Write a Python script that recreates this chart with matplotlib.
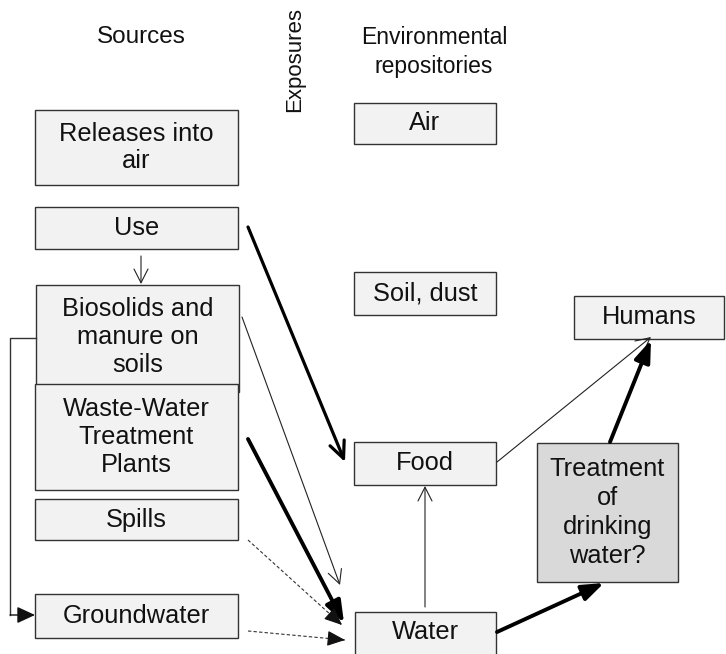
import matplotlib
matplotlib.use("Agg")
import matplotlib.pyplot as plt
from matplotlib.patches import Rectangle, FancyArrowPatch

plt.rcParams['font.family'] = ['Liberation Sans', 'DejaVu Sans']

# ---- content ----
headers = ["Sources", "Exposures", "Environmental\nrepositories"]
node_labels = ["Releases into\nair", "Use", "Biosolids and\nmanure on\nsoils",
               "Waste-Water\nTreatment\nPlants", "Spills", "Groundwater",
               "Air", "Soil, dust", "Food", "Water",
               "Treatment\nof\ndrinking\nwater?", "Humans"]
# flows: (from, to, kind)
flows = [("Use", "Biosolids and\nmanure on\nsoils", "thin"),
         ("Use", "Food", "thick_open"),
         ("Biosolids and\nmanure on\nsoils", "Water", "thin"),
         ("Waste-Water\nTreatment\nPlants", "Water", "thick"),
         ("Spills", "Water", "dashed"),
         ("Groundwater", "Water", "dashed"),
         ("Water", "Food", "thin"),
         ("Food", "Humans", "thin"),
         ("Water", "Treatment\nof\ndrinking\nwater?", "thick"),
         ("Treatment\nof\ndrinking\nwater?", "Humans", "thick")]

# ---- layout (pixel coordinates) ----
box_geom = {
    "Releases into\nair": (35, 110, 238, 185),
    "Use": (35, 207, 238, 249),
    "Biosolids and\nmanure on\nsoils": (36, 285, 239, 392),
    "Waste-Water\nTreatment\nPlants": (35, 384, 238, 490),
    "Spills": (35, 499, 238, 540),
    "Groundwater": (35, 594, 238, 638),
    "Air": (354, 103, 496, 144),
    "Soil, dust": (354, 272, 496, 315),
    "Food": (354, 442, 496, 485),
    "Water": (355, 612, 496, 690),
    "Treatment\nof\ndrinking\nwater?": (537, 443, 678, 582),
    "Humans": (574, 296, 724, 339),
}
text_y_override = {"Water": 632, "Biosolids and\nmanure on\nsoils": 337}
flow_geom = [((141, 256), (141, 284)),
             ((248, 227), (345, 462)),
             ((242, 317), (340, 585)),
             ((248, 439), (344, 623)),
             ((248, 540), (342, 625)),
             ((248, 631), (345, 640)),
             ((425, 607), (425, 486)),
             ((497, 462), (651, 337)),
             ((497, 632), (604, 583)),
             ((610, 442), (651, 340))]

W, H = 726, 654
fig = plt.figure(figsize=(W / 100, H / 100), dpi=100)
ax = fig.add_axes([0, 0, 1, 1])
ax.set_xlim(0, W)
ax.set_ylim(H, 0)
ax.axis("off")

# headers
ax.text(141, 43, headers[0], ha="center", va="baseline", fontsize=17.5, color="#111111")
ax.text(295, 60, headers[1], ha="center", va="center", rotation=90, fontsize=16, color="#111111")
ax.text(434, 52, headers[2], ha="center", va="center", fontsize=16.5, linespacing=1.3,
        color="#111111", multialignment="center")

# boxes
for lab in node_labels:
    x0, y0, x1, y1 = box_geom[lab]
    fc = "#d9d9d9" if lab.startswith("Treatment") else "#f2f2f2"
    ax.add_patch(Rectangle((x0, y0), x1 - x0, y1 - y0, facecolor=fc,
                           edgecolor="#333333", linewidth=1.0, zorder=2))
    ty = text_y_override.get(lab, (y0 + y1) / 2)
    ls = 1.25 if lab.startswith("Treatment") else 1.2
    ax.text((x0 + x1) / 2, ty, lab, ha="center", va="center", fontsize=18.3,
            linespacing=ls, color="#111111", zorder=3, multialignment="center")

# flows
for (src, dst, kind), (p0, p1) in zip(flows, flow_geom):
    if kind == "thin":
        a = FancyArrowPatch(p0, p1, arrowstyle="->,head_length=0.55,head_width=0.28",
                            mutation_scale=18, lw=0.8, color="#222222",
                            shrinkA=0, shrinkB=0, zorder=4)
        ax.add_patch(a)
    elif kind == "thick_open":
        a = FancyArrowPatch(p0, p1, arrowstyle="->,head_length=0.55,head_width=0.25",
                            mutation_scale=22, lw=2.3, color="black",
                            shrinkA=0, shrinkB=0, zorder=4)
        ax.add_patch(a)
    elif kind == "thick":
        a = FancyArrowPatch(p0, p1, arrowstyle="-|>,head_length=0.6,head_width=0.22",
                            mutation_scale=22, lw=2.8, color="black",
                            shrinkA=0, shrinkB=0, zorder=4)
        ax.add_patch(a)
    elif kind == "dashed":
        ax.plot([p0[0], p1[0]], [p0[1], p1[1]], color="#333333", lw=0.8,
                dashes=(3, 2), zorder=4)
        dx, dy = p1[0] - p0[0], p1[1] - p0[1]
        L = (dx ** 2 + dy ** 2) ** 0.5
        q = (p1[0] - dx / L * 12, p1[1] - dy / L * 12)
        a = FancyArrowPatch(q, p1, arrowstyle="-|>,head_length=0.65,head_width=0.28",
                            mutation_scale=17, lw=0.8, color="#111111",
                            shrinkA=0, shrinkB=0, zorder=4)
        ax.add_patch(a)

# elbow connector: Biosolids -> Groundwater
ax.plot([36, 10, 10], [338, 338, 615], color="#333333", lw=1.0, zorder=4)
ax.add_patch(FancyArrowPatch((10, 615), (35, 615),
                             arrowstyle="-|>,head_length=0.65,head_width=0.3",
                             mutation_scale=17, lw=1.0, color="#111111",
                             shrinkA=0, shrinkB=0, zorder=4))

fig.savefig("out.png", dpi=100)
